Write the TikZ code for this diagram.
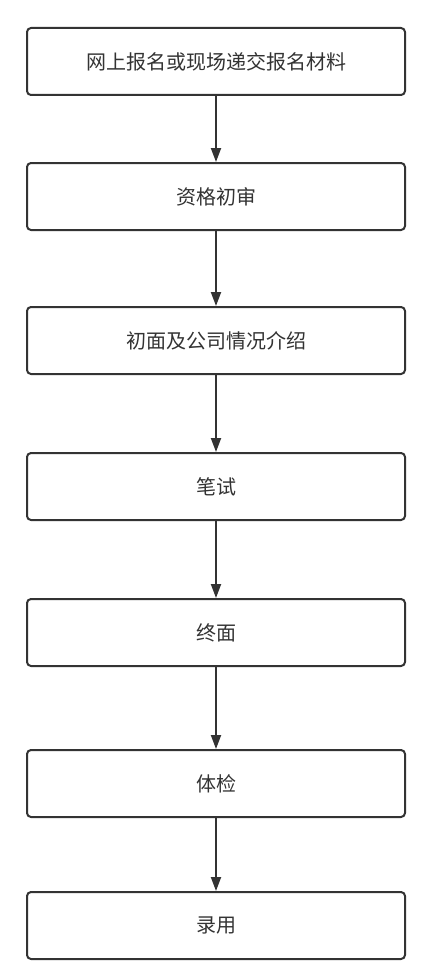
\documentclass[tikz,border=0pt]{standalone}
\usepackage{fontspec}
\newfontfamily\cjk{Noto Sans CJK SC}
\usetikzlibrary{arrows.meta}
\definecolor{ink}{HTML}{333333}
\begin{document}
\begin{tikzpicture}[x=1pt,y=-1pt,
  stepbox/.style={draw=ink,line width=2pt,rounded corners=4pt,minimum width=378pt,minimum height=67pt,inner sep=0pt,font=\cjk\fontsize{20pt}{24pt}\selectfont,text=ink},
  conn/.style={draw=ink,line width=2pt,-{Triangle[length=14pt,width=10pt]}}]
\useasboundingbox (0,0) rectangle (438,979);
\node[stepbox] (b1) at (216,61.5) {网上报名或现场递交报名材料};
\node[stepbox] (b2) at (216,196.5) {资格初审};
\node[stepbox] (b3) at (216,340.5) {初面及公司情况介绍};
\node[stepbox] (b4) at (216,486.5) {笔试};
\node[stepbox] (b5) at (216,632.5) {终面};
\node[stepbox] (b6) at (216,783.5) {体检};
\node[stepbox] (b7) at (216,925.5) {录用};
\draw[conn] (b1) -- (b2);
\draw[conn] (b2) -- (b3);
\draw[conn] (b3) -- (b4);
\draw[conn] (b4) -- (b5);
\draw[conn] (b5) -- (b6);
\draw[conn] (b6) -- (b7);
\end{tikzpicture}
\end{document}
